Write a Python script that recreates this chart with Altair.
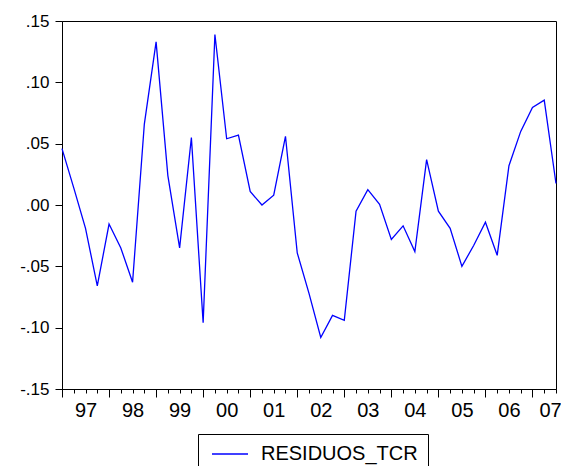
import json
import altair as alt
import pandas as pd

series_name = "RESIDUOS_TCR"

# quarterly residuals, 1997Q1 .. 2007Q3
residuals = [
    0.046, 0.014, -0.019, -0.066, -0.0155, -0.035, -0.063, 0.066,
    0.133, 0.024, -0.035, 0.055, -0.096, 0.139, 0.054, 0.057,
    0.011, 0.000, 0.008, 0.056, -0.039, -0.072, -0.108, -0.090,
    -0.094, -0.005, 0.0125, 0.0005, -0.028, -0.017, -0.038, 0.037,
    -0.005, -0.019, -0.050, -0.033, -0.014, -0.041, 0.032, 0.060,
    0.0795, 0.0855, 0.0175,
]

year_labels = ["97", "98", "99", "00", "01", "02", "03", "04", "05", "06", "07"]
y_ticks = [-0.15, -0.10, -0.05, 0.0, 0.05, 0.10, 0.15]
y_tick_labels = ["-.15", "-.10", "-.05", ".00", ".05", ".10", ".15"]

df = pd.DataFrame({
    "t": list(range(len(residuals))),
    "value": residuals,
    "series": [series_name] * len(residuals),
})

n_last = len(residuals) - 1
x_label_expr = f"datum.value % 4 == 2 ? {json.dumps(year_labels)}[floor(datum.value / 4)] : ''"
y_label_expr = f"{json.dumps(y_tick_labels)}[round((datum.value + 0.15) * 20)]"

font = "Liberation Sans"

chart = alt.Chart(df).mark_line(strokeWidth=1.3).encode(
    x=alt.X(
        "t:Q",
        scale=alt.Scale(domain=[0, n_last], nice=False, zero=False),
        axis=alt.Axis(
            title=None,
            values=list(range(len(residuals))),
            tickSize={"condition": {"test": "datum.value % 4 === 0", "value": 8}, "value": 4},
            labelExpr=x_label_expr,
            labelOffset={"condition": {"test": f"datum.value === {n_last}", "value": -6}, "value": 0},
            labelOverlap=False,
            labelFlush=False,
            labelPadding=7,
            labelFontSize=20,
            labelFont=font,
            labelColor="#000",
            tickColor="#000",
            domainColor="#000",
            grid=False,
        ),
    ),
    y=alt.Y(
        "value:Q",
        scale=alt.Scale(domain=[-0.15, 0.15], nice=False, zero=False),
        axis=alt.Axis(
            title=None,
            values=y_ticks,
            labelExpr=y_label_expr,
            tickSize=7,
            labelPadding=6,
            labelFontSize=17,
            labelFont=font,
            labelColor="#000",
            tickColor="#000",
            domainColor="#000",
            grid=False,
        ),
    ),
    color=alt.Color(
        "series:N",
        scale=alt.Scale(domain=[series_name], range=["#0000ff"]),
        legend=alt.Legend(
            title=None,
            orient="none",
            legendX=136,
            legendY=413,
            direction="vertical",
            strokeColor="#000",
            padding=10,
            symbolType="M-1,0H5",
            symbolSize=144,
            symbolStrokeWidth=1.5,
            symbolFillColor="transparent",
            labelOffset=33,
            labelFontSize=20,
            labelFont=font,
            labelColor="#000",
        ),
    ),
).properties(
    width=494,
    height=368,
    autosize=alt.AutoSizeParams(type="none"),
    padding={"left": 54, "top": 13, "right": 5, "bottom": 77},
).configure_view(stroke="#000", strokeWidth=1)

chart.save("out.html", embed_options={"renderer": "svg", "actions": False})
